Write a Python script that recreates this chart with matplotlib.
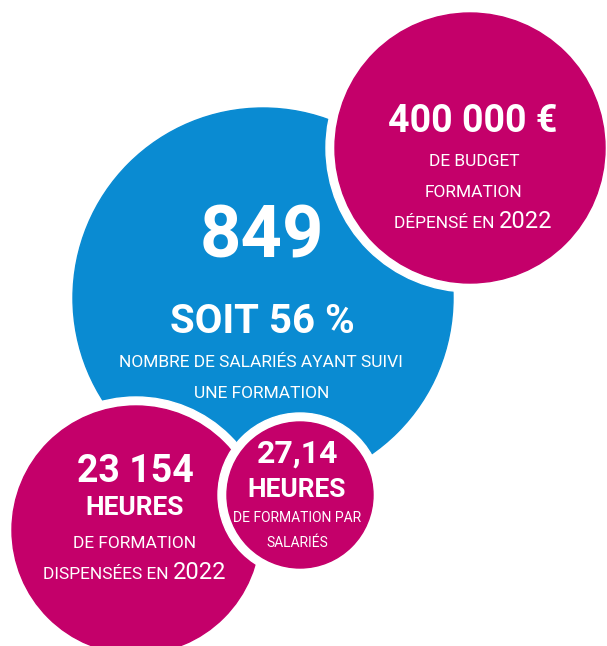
import matplotlib.pyplot as plt
from matplotlib.patches import Circle

# Bubble infographic: training figures 2022
BLUE = "#0A8BD2"
PINK = "#C4006A"

# headline values
budget = "400 000 €"
trained = "849"
share = "SOIT 56 %"
hours_total = "23 154"
hours_per_emp = "27,14"
year = "2022"

# bubble layout (pixel coords, y down): x, y, radius, colour, white ring
bubbles = [
    (263, 298, 190, BLUE, 0),
    (136, 530, 124, PINK, 9),
    (300, 495, 73, PINK, 9),
    (470, 148, 135, PINK, 9),
]

W, H = 607, 646
fig = plt.figure(figsize=(W / 100, H / 100), dpi=100)
ax = fig.add_axes([0, 0, 1, 1])
ax.set_xlim(0, W)
ax.set_ylim(H, 0)
ax.axis("off")

for i, (x, y, r, c, ring) in enumerate(bubbles):
    if ring:
        ax.add_patch(Circle((x, y), r + ring, color="white", zorder=2 * i + 1))
    ax.add_patch(Circle((x, y), r, color=c, zorder=2 * i + 2))

FONT = "Roboto"
renderer = fig.canvas.get_renderer()


def label(x, y, s, size, bold=False, z=20):
    return ax.text(x, y, s, ha="center", va="baseline", color="white",
                   fontsize=size, fontweight="bold" if bold else "normal",
                   family=FONT, zorder=z)


def mixed(x, y, small, big, size_small, size_big):
    # "TEXT EN" + bigger year on one baseline, centred on x
    t1 = ax.text(0, y, small, ha="left", va="baseline", color="white",
                 fontsize=size_small, family=FONT, zorder=20)
    t2 = ax.text(0, y, big, ha="left", va="baseline", color="white",
                 fontsize=size_big, family=FONT, zorder=20)
    w1 = t1.get_window_extent(renderer).width
    w2 = t2.get_window_extent(renderer).width
    x0 = x - (w1 + w2) / 2
    t1.set_x(x0)
    t2.set_x(x0 + w1)


# blue bubble
label(262, 257, trained, 52, bold=True)
label(262, 333, share, 29, bold=True)
label(261, 367, "NOMBRE DE SALARIÉS AYANT SUIVI", 12.5)
label(262, 398, "UNE FORMATION", 12.5)

# top-right bubble
label(473, 132, budget, 27, bold=True)
label(474, 166, "DE BUDGET", 12.5)
label(473, 197, "FORMATION", 12.5)
mixed(473, 228, "DÉPENSÉ EN ", year, 12.5, 17)

# bottom-left bubble
label(135, 482, hours_total, 27, bold=True)
label(135, 515, "HEURES", 19, bold=True)
label(135, 548, "DE FORMATION", 12.5)
mixed(135, 579, "DISPENSÉES EN ", year, 12.5, 17)

# small bubble
label(298, 463, hours_per_emp, 23, bold=True)
label(297, 497, "HEURES", 19, bold=True)
label(297, 522, "DE FORMATION PAR", 10)
label(297, 547, "SALARIÉS", 10)

fig.savefig("out.png", dpi=100)
